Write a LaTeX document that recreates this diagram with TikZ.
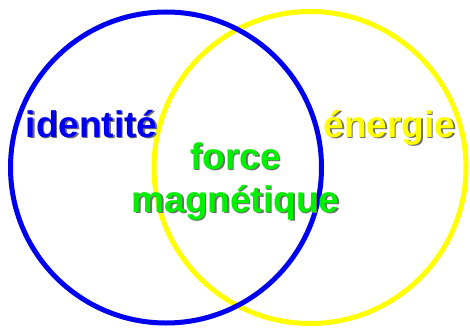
\documentclass[tikz,border=0pt]{standalone}
\usepackage{fontspec}
\setmainfont{Liberation Sans}
\definecolor{MyBlue}{HTML}{0000F0}
\definecolor{MyYellow}{HTML}{FFFF00}
\definecolor{MyGreen}{HTML}{00F000}
\definecolor{MyShade}{HTML}{6E6E6E}
\newcommand{\shadetext}[2]{\makebox[0pt][l]{\hspace{1.5pt}\raisebox{-1.5pt}{\color{MyShade}#2}}{\color{#1}#2}}

\begin{document}
\begin{tikzpicture}[x=1pt, y=-1pt, every node/.style={font=\fontsize{37}{43}\selectfont\bfseries, inner sep=0pt, anchor=base}, every path/.style={line width=5pt}]
	\useasboundingbox (0,0) rectangle (470,331);
	%
	\draw[MyYellow] (310,167.5) circle (156);
	\draw[MyBlue] (166,167.5) circle (155.5);
	%
	\node (identite) at (91.5,137) {\shadetext{MyBlue}{identité}};
	\node (energie) at (389.5,137) {\shadetext{MyYellow}{énergie}};
	%
	\node (force) at (235.5,169) {\shadetext{MyGreen}{force}};
	\node (magnetique) at ([yshift=-43pt]force.base) {\shadetext{MyGreen}{magnétique}};
\end{tikzpicture}
\end{document}
